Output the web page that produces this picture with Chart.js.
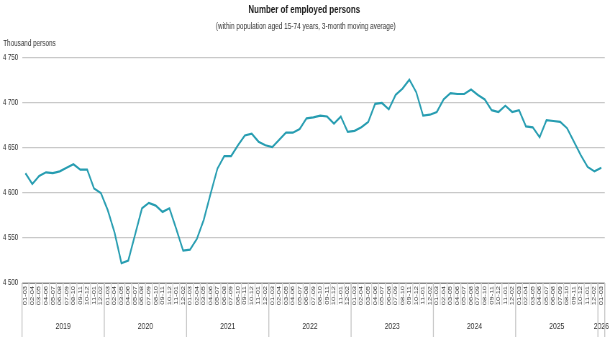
<!DOCTYPE html>
<html>
<head>
<meta charset="utf-8">
<script src="https://cdn.jsdelivr.net/npm/chart.js@4"></script>
<style>
  html, body { margin: 0; padding: 0; background: #fff; overflow: hidden; }
  #wrap { width: 610px; height: 343px; overflow: hidden; position: relative; }
  /* the chart is laid out on a wider canvas and narrowed to give condensed lettering */
  #chart { position: absolute; left: 0; top: 0; transform: scaleX(0.7193); transform-origin: 0 0; }
</style>
</head>
<body>
<div id="wrap"><canvas id="chart" width="848" height="343"></canvas></div>
<script>
// Three-month periods within each year and the number of periods per year
const periods = ['01-03','02-04','03-05','04-06','05-07','06-08','07-09','08-10','09-11','10-12','11-01','12-02'];
const years = ['2019','2020','2021','2022','2023','2024','2025','2026'];
const periodsPerYear = [12, 12, 12, 12, 12, 12, 12, 1];

// Employed persons, thousands (3-month moving average)
const employed = [
  4622, 4610, 4619, 4623, 4622, 4624, 4628, 4632, 4626, 4626, 4605, 4600,
  4581, 4556, 4522, 4525, 4554, 4583, 4589, 4586, 4579, 4583, 4560, 4536,
  4537, 4549, 4570, 4599, 4627, 4641, 4641, 4653, 4664, 4666, 4657, 4653,
  4651, 4659, 4667, 4667, 4671, 4683, 4684, 4686, 4685, 4677, 4685, 4668,
  4669, 4673, 4679, 4699, 4700, 4693, 4709, 4716, 4726, 4712, 4686, 4687,
  4690, 4704, 4711, 4710, 4710, 4715, 4709, 4704, 4692, 4690, 4697, 4690,
  4692, 4674, 4673, 4662, 4681, 4680, 4679, 4672, 4657, 4642, 4629, 4624,
  4628
];

const yMin = 4500, yMax = 4750, yStep = 50;

const titleText = 'Number of employed persons';
const subtitleText = '(within population aged 15-74 years, 3-month moving average)';
const unitText = 'Thousand persons';

const categories = [];
years.forEach((y, k) => {
  for (let i = 0; i < periodsPerYear[k]; i++) categories.push(periods[i]);
});

const FONT = "'Liberation Sans', Arial, sans-serif";

const fmt = v => String(v).replace(/\B(?=(\d{3})+(?!\d))/g, ' ');

// Header texts, label separators and the year row under the x axis
const decorations = {
  id: 'decorations',
  afterDraw(chart) {
    const { ctx } = chart;
    const x = chart.scales.x;
    const n = categories.length;
    const edge = i => i <= 0 ? x.left : i >= n ? x.right
      : (x.getPixelForValue(i - 1) + x.getPixelForValue(i)) / 2;

    ctx.save();
    ctx.textAlign = 'center';
    ctx.textBaseline = 'middle';
    ctx.fillStyle = '#1a1a1a';
    ctx.font = 'bold 11px ' + FONT;
    ctx.fillText(titleText, 423, 9.5);
    ctx.fillStyle = '#333';
    ctx.font = '9px ' + FONT;
    ctx.fillText(subtitleText, 425, 27);
    ctx.textAlign = 'left';
    ctx.font = '8.8px ' + FONT;
    ctx.fillText(unitText, 4.5, 43.5);

    // thin separators between period labels
    ctx.strokeStyle = '#d2d2d2';
    ctx.lineWidth = 1.3;
    ctx.beginPath();
    for (let i = 0; i <= n; i++) {
      const px = edge(i);
      ctx.moveTo(px, x.top);
      ctx.lineTo(px, x.bottom);
    }
    ctx.stroke();

    // year groups
    ctx.strokeStyle = '#c4c4c4';
    ctx.beginPath();
    let start = 0;
    ctx.textAlign = 'center';
    ctx.fillStyle = '#333';
    ctx.font = '9.5px ' + FONT;
    years.forEach((y, k) => {
      const a = edge(start), b = edge(start + periodsPerYear[k]);
      ctx.moveTo(a, x.top);
      ctx.lineTo(a, 337);
      ctx.fillText(y, (a + b) / 2, 326);
      start += periodsPerYear[k];
    });
    ctx.moveTo(edge(n), x.top);
    ctx.lineTo(edge(n), 337);
    ctx.stroke();
    ctx.restore();
  }
};

new Chart(document.getElementById('chart'), {
  type: 'line',
  data: {
    labels: categories,
    datasets: [{
      data: employed,
      borderColor: '#279db1',
      borderWidth: 2.2,
      pointRadius: 0,
      tension: 0,
      fill: false
    }]
  },
  options: {
    responsive: false,
    animation: false,
    layout: { padding: { left: 4, right: 5.5, top: 58, bottom: 38 } },
    plugins: { legend: { display: false }, tooltip: { enabled: false } },
    scales: {
      x: {
        type: 'category',
        offset: true,
        grid: { display: false, drawTicks: false },
        border: { display: true, color: '#8a8a8a', width: 1 },
        ticks: {
          autoSkip: false,
          minRotation: 90,
          maxRotation: 90,
          padding: 3,
          color: '#333',
          font: { family: FONT, size: 7.5 }
        },
        afterFit(scale) { scale.height = 22; }
      },
      y: {
        min: yMin,
        max: yMax,
        grid: { color: '#c9c9c9', lineWidth: 1.2, drawTicks: false },
        border: { display: false },
        ticks: {
          stepSize: yStep,
          crossAlign: 'far',
          padding: 2,
          color: '#333',
          font: { family: FONT, size: 8.5 },
          callback: v => fmt(v)
        },
        afterFit(scale) { scale.width = 26.6; }
      }
    }
  },
  plugins: [decorations]
});
</script>
</body>
</html>
